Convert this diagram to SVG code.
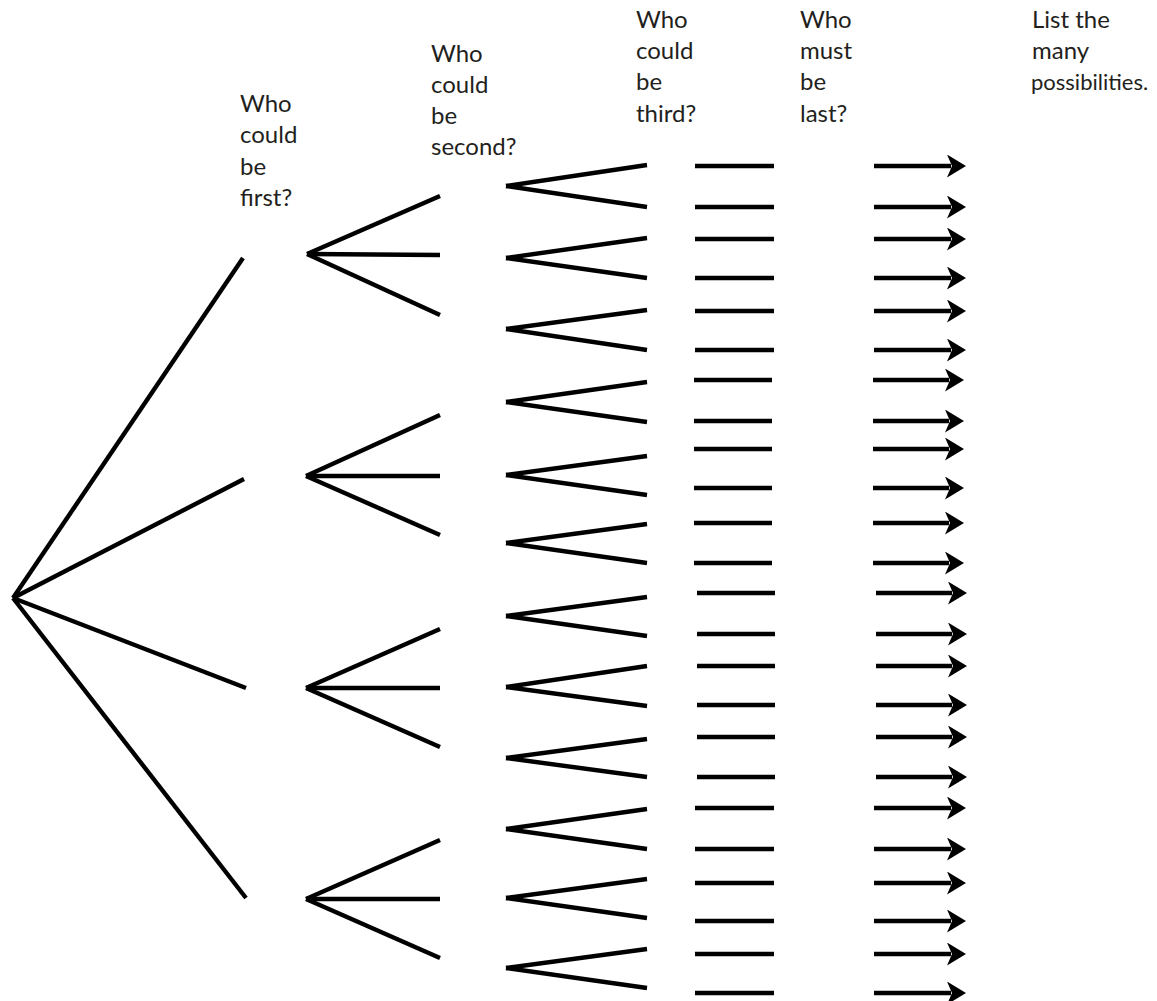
<svg xmlns="http://www.w3.org/2000/svg" width="1157" height="1001" viewBox="0 0 1157 1001">
<style>
.lbl{font-family:Lato,"Open Sans","Liberation Sans",sans-serif;font-size:24px;fill:#231f20}
.br line,.br{stroke:#000;stroke-width:4.4;stroke-linecap:butt;fill:none}
.ar{stroke:#000;stroke-width:4.4;fill:none}
</style>
<defs>
<marker id="ah" markerUnits="userSpaceOnUse" markerWidth="21" markerHeight="23" viewBox="0 0 21 23" refX="4" refY="11.5" orient="auto">
<path d="M0,0 L19,11.5 L0,23 L5,11.5 Z" fill="#000"/>
</marker>
</defs>
<rect width="1157" height="1001" fill="#fff"/>

<g id="label-first"><text class="lbl" x="240" y="112">Who</text><text class="lbl" x="240" y="143">could</text><text class="lbl" x="240" y="175">be</text><text class="lbl" x="240" y="206">first?</text></g>
<g id="label-second"><text class="lbl" x="431" y="62">Who</text><text class="lbl" x="431" y="93">could</text><text class="lbl" x="431" y="124">be</text><text class="lbl" x="431" y="155">second?</text></g>
<g id="label-third"><text class="lbl" x="636" y="28">Who</text><text class="lbl" x="636" y="59">could</text><text class="lbl" x="636" y="90">be</text><text class="lbl" x="636" y="122">third?</text></g>
<g id="label-last"><text class="lbl" x="800" y="28">Who</text><text class="lbl" x="800" y="59">must</text><text class="lbl" x="800" y="90">be</text><text class="lbl" x="800" y="122">last?</text></g>
<g id="label-list"><text class="lbl" x="1032" y="28">List the</text><text class="lbl" x="1032" y="59">many</text><text class="lbl" x="1031" y="90" style="font-size:22px">possibilities.</text></g>

<g id="connectors">
<g id="level1" class="br">
<line x1="13" y1="598" x2="243" y2="258"/>
<line x1="13" y1="598" x2="244" y2="479"/>
<line x1="13" y1="598" x2="246" y2="688"/>
<line x1="13" y1="598" x2="246" y2="898"/>
</g>
<g id="level2" class="br">
<line x1="307" y1="254" x2="440" y2="196"/><line x1="307" y1="254" x2="440" y2="255"/><line x1="307" y1="254" x2="440" y2="315"/>
<line x1="306" y1="476" x2="440" y2="415"/><line x1="306" y1="476" x2="440" y2="476"/><line x1="306" y1="476" x2="440" y2="535"/>
<line x1="306" y1="688" x2="440" y2="629"/><line x1="306" y1="688" x2="440" y2="688"/><line x1="306" y1="688" x2="440" y2="747"/>
<line x1="306" y1="899" x2="440" y2="840"/><line x1="306" y1="899" x2="440" y2="899"/><line x1="306" y1="899" x2="440" y2="958"/>
</g>
<g id="level3" class="br">
<line x1="506" y1="186" x2="647" y2="165"/><line x1="506" y1="186" x2="647" y2="207"/>
<line x1="506" y1="258" x2="647" y2="238"/><line x1="506" y1="258" x2="647" y2="278"/>
<line x1="506" y1="329" x2="647" y2="310"/><line x1="506" y1="329" x2="647" y2="350"/>
<line x1="506" y1="402" x2="647" y2="382"/><line x1="506" y1="402" x2="647" y2="422"/>
<line x1="506" y1="475" x2="647" y2="456"/><line x1="506" y1="475" x2="647" y2="495"/>
<line x1="506" y1="543" x2="647" y2="524"/><line x1="506" y1="543" x2="647" y2="563"/>
<line x1="506" y1="616" x2="647" y2="597"/><line x1="506" y1="616" x2="647" y2="636"/>
<line x1="506" y1="687" x2="647" y2="666"/><line x1="506" y1="687" x2="647" y2="706"/>
<line x1="506" y1="758" x2="647" y2="739"/><line x1="506" y1="758" x2="647" y2="777"/>
<line x1="506" y1="829" x2="647" y2="809"/><line x1="506" y1="829" x2="647" y2="849"/>
<line x1="506" y1="898" x2="647" y2="879"/><line x1="506" y1="898" x2="647" y2="918"/>
<line x1="506" y1="968" x2="647" y2="949"/><line x1="506" y1="968" x2="647" y2="988"/>
</g>
<g id="level4" class="br">
<line x1="695" y1="166" x2="774" y2="166"/>
<line x1="695" y1="207" x2="774" y2="207"/>
<line x1="695" y1="239" x2="774" y2="239"/>
<line x1="695" y1="278" x2="774" y2="278"/>
<line x1="695" y1="311" x2="774" y2="311"/>
<line x1="695" y1="350" x2="774" y2="350"/>
<line x1="694" y1="380" x2="772" y2="380"/>
<line x1="694" y1="421" x2="772" y2="421"/>
<line x1="694" y1="449" x2="772" y2="449"/>
<line x1="694" y1="488" x2="772" y2="488"/>
<line x1="694" y1="523" x2="772" y2="523"/>
<line x1="694" y1="563" x2="772" y2="563"/>
<line x1="697" y1="593" x2="775" y2="593"/>
<line x1="697" y1="634" x2="775" y2="634"/>
<line x1="697" y1="666" x2="775" y2="666"/>
<line x1="697" y1="705" x2="775" y2="705"/>
<line x1="697" y1="737" x2="775" y2="737"/>
<line x1="697" y1="777" x2="775" y2="777"/>
<line x1="695" y1="808" x2="774" y2="808"/>
<line x1="695" y1="849" x2="774" y2="849"/>
<line x1="695" y1="883" x2="774" y2="883"/>
<line x1="695" y1="921" x2="774" y2="921"/>
<line x1="695" y1="954" x2="774" y2="954"/>
<line x1="695" y1="993" x2="774" y2="993"/>
</g>
<g id="level5" class="ar" marker-end="url(#ah)">
<line x1="874" y1="166" x2="951" y2="166"/>
<line x1="874" y1="207" x2="951" y2="207"/>
<line x1="874" y1="239" x2="951" y2="239"/>
<line x1="874" y1="278" x2="951" y2="278"/>
<line x1="874" y1="311" x2="951" y2="311"/>
<line x1="874" y1="350" x2="951" y2="350"/>
<line x1="873" y1="380" x2="949" y2="380"/>
<line x1="873" y1="421" x2="949" y2="421"/>
<line x1="873" y1="449" x2="949" y2="449"/>
<line x1="873" y1="488" x2="949" y2="488"/>
<line x1="873" y1="523" x2="949" y2="523"/>
<line x1="873" y1="563" x2="949" y2="563"/>
<line x1="876" y1="593" x2="952" y2="593"/>
<line x1="876" y1="634" x2="952" y2="634"/>
<line x1="876" y1="666" x2="952" y2="666"/>
<line x1="876" y1="705" x2="952" y2="705"/>
<line x1="876" y1="737" x2="952" y2="737"/>
<line x1="876" y1="777" x2="952" y2="777"/>
<line x1="874" y1="808" x2="951" y2="808"/>
<line x1="874" y1="849" x2="951" y2="849"/>
<line x1="874" y1="883" x2="951" y2="883"/>
<line x1="874" y1="921" x2="951" y2="921"/>
<line x1="874" y1="954" x2="951" y2="954"/>
<line x1="874" y1="993" x2="951" y2="993"/>
</g>
</g>
</svg>
